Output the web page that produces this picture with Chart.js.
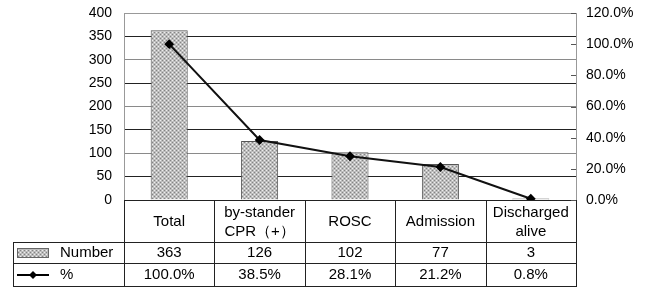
<!DOCTYPE html>
<html>
<head>
<meta charset="utf-8">
<script src="https://cdn.jsdelivr.net/npm/chart.js@4/dist/chart.umd.min.js"></script>
<style>
  html, body { margin: 0; padding: 0; background: #fff; }
  #wrap { width: 651px; height: 288px; position: relative; }
</style>
</head>
<body>
<div id="wrap"><canvas id="chart"></canvas></div>
<script>
var categories = ["Total", ["by-stander", "CPR（+）"], "ROSC", "Admission", ["Discharged", "alive"]];
var numbers = [363, 126, 102, 77, 3];
var percents = [100.0, 38.5, 28.1, 21.2, 0.8];
var rowNames = ["Number", "%"];

// dotted grey fill like the scanned bars
function makePattern(){
  var c = document.createElement("canvas");
  c.width = 4; c.height = 4;
  var g = c.getContext("2d");
  g.fillStyle = "#bdbdbd";
  g.fillRect(0, 0, 4, 4);
  g.fillStyle = "#eeeeee";
  g.fillRect(0, 0, 1, 1);
  g.fillRect(2, 2, 1, 1);
  g.fillStyle = "#848484";
  g.fillRect(2, 0, 1, 1);
  g.fillRect(0, 2, 1, 1);
  return g.createPattern(c, "repeat");
}
var barFill = makePattern();

var FONT = "'Liberation Sans', Arial, sans-serif";

// table under the plot, columns taken from the x scale
var tablePlugin = {
  id: "dataTable",
  afterDraw: function(chart){
    var ctx = chart.ctx;
    var x = chart.scales.x;
    var area = chart.chartArea;
    var n = categories.length;
    var colW = (area.right - area.left) / n;
    var top = area.bottom, r1 = 242, r2 = 263, bottom = 286, legLeft = 13;

    ctx.save();
    ctx.strokeStyle = "#222";
    ctx.lineWidth = 1;
    ctx.beginPath();
    for (var i = 0; i <= n; i++){
      var bx = Math.round(area.left + i * colW) + 0.5;
      ctx.moveTo(bx, top); ctx.lineTo(bx, bottom);
    }
    ctx.moveTo(area.left, top + 0.5); ctx.lineTo(area.right, top + 0.5);
    [r1, r2, bottom].forEach(function(yy){
      ctx.moveTo(legLeft, yy + 0.5); ctx.lineTo(area.right + 1, yy + 0.5);
    });
    ctx.moveTo(legLeft + 0.5, r1); ctx.lineTo(legLeft + 0.5, bottom);
    ctx.stroke();

    ctx.fillStyle = "#000";
    ctx.font = "15px " + FONT;
    ctx.textAlign = "center";
    ctx.textBaseline = "middle";
    categories.forEach(function(lab, i){
      var cx = x.getPixelForValue(i);
      if (Array.isArray(lab)){
        ctx.fillText(lab[0], cx, 213);
        ctx.fillText(lab[1], cx, 232);
      } else {
        ctx.fillText(lab, cx, 222);
      }
      ctx.fillText(String(numbers[i]), cx, 253);
      ctx.fillText(percents[i].toFixed(1) + "%", cx, 275);
    });

    // legend cells
    ctx.textAlign = "left";
    ctx.fillText(rowNames[0], 60, 253);
    ctx.fillText(rowNames[1], 60, 275);
    ctx.fillStyle = barFill;
    ctx.fillRect(17, 248, 32, 10);
    ctx.strokeStyle = "#666";
    ctx.strokeRect(17.5, 248.5, 31, 9);
    ctx.strokeStyle = "#000";
    ctx.lineWidth = 2;
    ctx.beginPath();
    ctx.moveTo(17, 275); ctx.lineTo(49, 275);
    ctx.stroke();
    ctx.fillStyle = "#000";
    ctx.beginPath();
    ctx.moveTo(33, 271); ctx.lineTo(37, 275); ctx.lineTo(33, 279); ctx.lineTo(29, 275);
    ctx.closePath(); ctx.fill();

    // small inner tick marks on right axis
    var y1 = chart.scales.y1;
    ctx.strokeStyle = "#555";
    ctx.lineWidth = 1;
    ctx.beginPath();
    y1.ticks.forEach(function(t){
      var py = Math.round(y1.getPixelForValue(t.value)) + 0.5;
      ctx.moveTo(area.right - 5, py); ctx.lineTo(area.right, py);
    });
    ctx.stroke();
    ctx.restore();
  }
};

new Chart(document.getElementById("chart"), {
  type: "bar",
  data: {
    labels: categories,
    datasets: [
      {
        type: "line",
        label: "%",
        data: percents,
        yAxisID: "y1",
        borderColor: "#111",
        borderWidth: 2,
        pointStyle: "rectRot",
        pointRadius: 3.5,
        pointBackgroundColor: "#000",
        pointBorderColor: "#000",
        tension: 0,
        order: 0
      },
      {
        label: "Number",
        data: numbers,
        yAxisID: "y",
        backgroundColor: barFill,
        borderColor: "#555",
        borderWidth: 1,
        categoryPercentage: 1,
        barPercentage: 0.41,
        order: 1
      }
    ]
  },
  options: {
    responsive: true,
    maintainAspectRatio: false,
    animation: false,
    layout: { padding: { top: 13, bottom: 88, left: 0, right: 0 } },
    plugins: { legend: { display: false }, tooltip: { enabled: false } },
    scales: {
      x: { display: false, offset: true },
      y: {
        position: "left",
        min: 0, max: 400,
        ticks: { stepSize: 50, padding: 12, color: "#000", font: { size: 14, family: FONT } },
        grid: {
          drawTicks: false,
          color: function(c){
            if (c.index === 0) return "#000";
            if (c.index === 8) return "#999";
            return c.index % 2 ? "#222" : "#8a8a8a";
          }
        },
        border: { display: true, color: "#999" },
        afterFit: function(s){ s.width = 124; s.paddingTop = 0; s.paddingBottom = 0; }
      },
      y1: {
        position: "right",
        min: 0, max: 120,
        ticks: {
          stepSize: 20, padding: 10, color: "#000", font: { size: 14, family: FONT },
          callback: function(v){ return v.toFixed(1) + "%"; }
        },
        grid: { display: false, drawOnChartArea: false, drawTicks: false },
        border: { display: true, color: "#999" },
        afterFit: function(s){ s.width = 75; s.paddingTop = 0; s.paddingBottom = 0; }
      }
    }
  },
  plugins: [tablePlugin]
});
</script>
</body>
</html>
